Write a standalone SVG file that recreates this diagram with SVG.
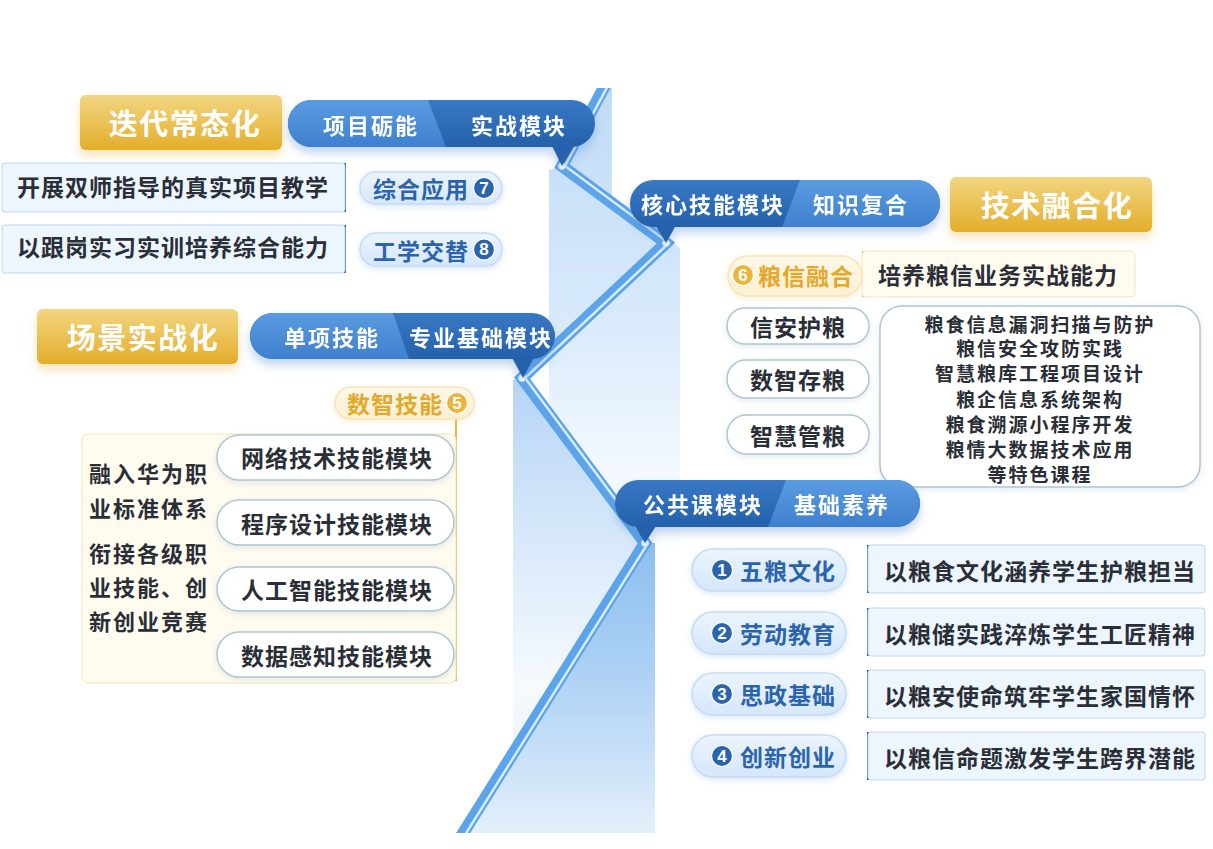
<svg xmlns="http://www.w3.org/2000/svg" width="1213" height="849" viewBox="0 0 1213 849">
<defs>
<style>
text{font-family:"Noto Sans CJK SC","Noto Sans",sans-serif;font-weight:700;dominant-baseline:central;}
.gt{fill:#fff;font-size:29px;letter-spacing:1.5px;text-anchor:middle;}
.bt{fill:#fff;font-size:22px;letter-spacing:2px;text-anchor:middle;}
.dk{fill:#2a2e37;font-size:23px;letter-spacing:1px;}
.mid{text-anchor:middle;}
.bl{fill:#2b64aa;font-size:23px;letter-spacing:1px;text-anchor:middle;}
.gd{fill:#e4a82b;font-size:23px;letter-spacing:1px;text-anchor:middle;}
.sm{fill:#2a2e37;font-size:19px;letter-spacing:2px;text-anchor:middle;}
.num{fill:#fff;font-size:17px;text-anchor:middle;font-family:"Liberation Sans",sans-serif;}
.goldbox{fill:url(#gGold);filter:url(#shG);}
.lpill{fill:url(#gLp);stroke:#c6dcf4;stroke-width:1.5;filter:url(#shL);}
.gpill{fill:url(#gGp);stroke:#f6e5bc;stroke-width:1.5;filter:url(#shGl);}
.wpill{fill:#fff;stroke:#aec6d3;stroke-width:1.5;filter:url(#shW);}
.lbox{fill:#edf5fe;stroke:#bcd6f2;stroke-width:1;}
.cbox{fill:#fffbef;stroke:#f6e4b2;stroke-width:1;}
.bnum{fill:#2b64aa;stroke:#ffffff;stroke-width:1.2;}
.gnum{fill:#ebb43b;stroke:#ffffff;stroke-width:1.2;}
.bline{stroke:#2b65ad;stroke-width:2;}
.gline{stroke:#e8b53c;stroke-width:2;}
.btri{fill:#2b65ad;}
.gtri{fill:#e8b53c;}
.dark{fill:url(#gBD);}
.light{fill:url(#gBL);}
.ptr{fill:#2862ab;}
</style>
<linearGradient id="gGold" x1="0" y1="0" x2="0" y2="1"><stop offset="0" stop-color="#f2d682"/><stop offset="1" stop-color="#e3ad2a"/></linearGradient>
<linearGradient id="gBL" x1="0" y1="0" x2="0" y2="1"><stop offset="0" stop-color="#5a9be0"/><stop offset="1" stop-color="#3e80ce"/></linearGradient>
<linearGradient id="gBD" x1="0" y1="0" x2="0" y2="1"><stop offset="0" stop-color="#3a78c4"/><stop offset="1" stop-color="#2461aa"/></linearGradient>
<linearGradient id="gLp" x1="0" y1="0" x2="0" y2="1"><stop offset="0" stop-color="#ebf4fe"/><stop offset="1" stop-color="#d5e7fa"/></linearGradient>
<linearGradient id="gGp" x1="0" y1="0" x2="0" y2="1"><stop offset="0" stop-color="#fef8e8"/><stop offset="1" stop-color="#fcefd2"/></linearGradient>
<linearGradient id="gR1" gradientUnits="userSpaceOnUse" x1="0" y1="88" x2="0" y2="560"><stop offset="0" stop-color="#c0dbf7"/><stop offset="0.45" stop-color="#d6e8fb"/><stop offset="0.8" stop-color="#f2f8fe"/><stop offset="1" stop-color="#ffffff"/></linearGradient>
<linearGradient id="gR2" gradientUnits="userSpaceOnUse" x1="0" y1="377" x2="0" y2="833"><stop offset="0" stop-color="#b6d4f5"/><stop offset="0.35" stop-color="#d7e8fa"/><stop offset="0.68" stop-color="#f6fafe"/><stop offset="1" stop-color="#e2eefb"/></linearGradient>
<linearGradient id="gR3" gradientUnits="userSpaceOnUse" x1="0" y1="543" x2="0" y2="833"><stop offset="0" stop-color="#8dbfef"/><stop offset="0.4" stop-color="#a9cff4"/><stop offset="0.75" stop-color="#cae1f8"/><stop offset="1" stop-color="#e4f0fc"/></linearGradient>
<filter id="shB" x="-20%" y="-40%" width="140%" height="200%"><feDropShadow dx="0" dy="6" stdDeviation="5" flood-color="#4f86cc" flood-opacity="0.35"/></filter>
<filter id="shG" x="-20%" y="-40%" width="140%" height="200%"><feDropShadow dx="0" dy="6" stdDeviation="5" flood-color="#e5b13c" flood-opacity="0.35"/></filter>
<filter id="shL" x="-20%" y="-40%" width="140%" height="200%"><feDropShadow dx="0" dy="2" stdDeviation="3" flood-color="#8db8ea" flood-opacity="0.35"/></filter>
<filter id="shGl" x="-20%" y="-40%" width="140%" height="200%"><feDropShadow dx="0" dy="2" stdDeviation="3" flood-color="#efd08a" flood-opacity="0.35"/></filter>
<filter id="shW" x="-20%" y="-40%" width="140%" height="200%"><feDropShadow dx="0" dy="2" stdDeviation="3" flood-color="#9fb7c6" flood-opacity="0.3"/></filter>
<clipPath id="clipLine"><rect x="0" y="88" width="1213" height="745"/></clipPath>
</defs>

<rect width="1213" height="849" fill="#ffffff"/>

<g id="background-ribbon">
<path d="M549,170 L562,166 L604,88 L612,88 L612,203 L680,248 L680,560 L549,560 Z" fill="url(#gR1)"/>
<path d="M513,380 L522,378 L645,543 L655,548 L655,833 L513,833 Z" fill="url(#gR2)"/>
<path d="M463,833 L645,543 L655,543 L655,833 Z" fill="url(#gR3)"/>
</g>

<g id="connectors">
<g clip-path="url(#clipLine)">
<polyline points="608,80 562,166 666,243 522,378 645,543 455,846" fill="none" stroke="#5ba4ea" stroke-width="12" stroke-linejoin="miter"/>
<polyline points="608,80 562,166 666,243 522,378 645,543 455,846" fill="none" stroke="#d9ebfc" stroke-width="2.5" transform="translate(3,0)"/>
</g>
<g fill="#ffffff" stroke="#cfe2f7" stroke-width="1">
<circle cx="562" cy="166" r="3.5"/>
<circle cx="666" cy="243" r="3.5"/>
<circle cx="522" cy="378" r="3.5"/>
<circle cx="645" cy="543" r="3.5"/>
</g>
<line class="bline" x1="345" y1="163" x2="345" y2="212"/>
<line class="bline" x1="345" y1="225" x2="345" y2="273"/>
<path class="btri" d="M337,187 L343,183 L343,191 Z"/>
<path class="btri" d="M337,249 L343,245 L343,253 Z"/>
<line class="gline" x1="456" y1="418" x2="456" y2="681"/>
<path class="gtri" d="M448,457 L455,453 L455,461 Z"/>
<path class="gtri" d="M448,523 L455,519 L455,527 Z"/>
<path class="gtri" d="M448,589 L455,585 L455,593 Z"/>
<path class="gtri" d="M448,655 L455,651 L455,659 Z"/>
<line class="gline" x1="863" y1="251" x2="863" y2="297"/>
<path class="gtri" d="M871,274 L865,270 L865,278 Z"/>
<line class="bline" x1="868" y1="545" x2="868" y2="593"/>
<line class="bline" x1="868" y1="608" x2="868" y2="656"/>
<line class="bline" x1="868" y1="670" x2="868" y2="718"/>
<line class="bline" x1="868" y1="732" x2="868" y2="780"/>
<path class="btri" d="M876,569 L870,565 L870,573 Z"/>
<path class="btri" d="M876,632 L870,628 L870,636 Z"/>
<path class="btri" d="M876,694 L870,690 L870,698 Z"/>
<path class="btri" d="M876,756 L870,752 L870,760 Z"/>
</g>

<g id="node-diedai">
<rect class="goldbox" x="80" y="95" width="202" height="55" rx="6"/>
<text class="gt" x="185" y="122">迭代常态化</text>
</g>
<g id="node-xiangmu" filter="url(#shB)">
<path class="ptr" d="M549,140 L578,140 L562,166 Z"/>
<rect class="dark" x="288" y="100" width="307" height="47" rx="23.5"/>
<path class="light" d="M311.5,100 L428,100 L446,147 L311.5,147 A23.5,23.5 0 0 1 311.5,100 Z"/>
<text class="bt" x="371" y="124">项目砺能</text>
<text class="bt" x="519" y="124">实战模块</text>
</g>
<g id="node-shuangshi">
<rect class="lbox" x="2" y="163" width="343" height="49" rx="3"/>
<text class="dk" x="17" y="186">开展双师指导的真实项目教学</text>
</g>
<g id="node-genggang">
<rect class="lbox" x="2" y="225" width="343" height="48" rx="3"/>
<text class="dk" x="17" y="246">以跟岗实习实训培养综合能力</text>
</g>
<g id="node-zonghe">
<rect class="lpill" x="360" y="172" width="142" height="32" rx="16"/>
<text class="bl" x="421" y="188">综合应用</text>
<circle class="bnum" cx="484" cy="188" r="10.5"/>
<text class="num" x="484" y="188">7</text>
</g>
<g id="node-gongxue">
<rect class="lpill" x="360" y="233" width="142" height="33" rx="16.5"/>
<text class="bl" x="421" y="249.5">工学交替</text>
<circle class="bnum" cx="484" cy="249.5" r="10.5"/>
<text class="num" x="484" y="249.5">8</text>
</g>

<g id="node-changjing">
<rect class="goldbox" x="37" y="309" width="201" height="55" rx="6"/>
<text class="gt" x="143" y="336">场景实战化</text>
</g>
<g id="node-danxiang" filter="url(#shB)">
<path class="ptr" d="M509,352 L537,352 L523,378 Z"/>
<rect class="dark" x="250" y="313" width="305" height="46" rx="23"/>
<path class="light" d="M273,313 L393,313 L409,359 L273,359 A23,23 0 0 1 273,313 Z"/>
<text class="bt" x="332" y="336">单项技能</text>
<text class="bt" x="481" y="336">专业基础模块</text>
</g>
<g id="node-shuzhi">
<rect class="gpill" x="335" y="387" width="139" height="32" rx="16"/>
<text class="gd" x="395" y="403">数智技能</text>
<circle class="gnum" cx="457" cy="403" r="10.5"/>
<text class="num" x="457" y="403">5</text>
</g>
<g id="node-huawei">
<rect class="cbox" x="82" y="434" width="374" height="249" rx="6"/>
<text class="dk" x="89" y="472" style="font-size:22px;letter-spacing:2px">融入华为职</text>
<text class="dk" x="89" y="507" style="font-size:22px;letter-spacing:2px">业标准体系</text>
<text class="dk" x="89" y="552" style="font-size:22px;letter-spacing:2px">衔接各级职</text>
<text class="dk" x="89" y="586" style="font-size:22px;letter-spacing:2px">业技能、创</text>
<text class="dk" x="89" y="620" style="font-size:22px;letter-spacing:2px">新创业竞赛</text>
</g>
<g id="node-wangluo">
<rect class="wpill" x="217" y="435" width="237" height="45" rx="22.5"/>
<text class="dk mid" x="337" y="457">网络技术技能模块</text>
</g>
<g id="node-chengxu">
<rect class="wpill" x="217" y="500" width="237" height="45" rx="22.5"/>
<text class="dk mid" x="337" y="522.5">程序设计技能模块</text>
</g>
<g id="node-rengong">
<rect class="wpill" x="217" y="567" width="237" height="44" rx="22"/>
<text class="dk mid" x="337" y="589">人工智能技能模块</text>
</g>
<g id="node-ganzhi">
<rect class="wpill" x="217" y="632" width="237" height="45" rx="22.5"/>
<text class="dk mid" x="337" y="654.5">数据感知技能模块</text>
</g>

<g id="node-hexin" filter="url(#shB)">
<path class="ptr" d="M651,218 L680,218 L666,243 Z"/>
<rect class="dark" x="630" y="180" width="310" height="47" rx="23.5"/>
<path class="light" d="M782,227 L800,180 L916.5,180 A23.5,23.5 0 0 1 916.5,227 Z"/>
<text class="bt" x="713" y="203">核心技能模块</text>
<text class="bt" x="861" y="203">知识复合</text>
</g>
<g id="node-jishu">
<rect class="goldbox" x="950" y="177" width="202" height="55" rx="6"/>
<text class="gt" x="1057" y="204">技术融合化</text>
</g>
<g id="node-liangxin">
<rect class="gpill" x="728" y="256" width="134" height="40" rx="20"/>
<circle class="gnum" cx="743" cy="275" r="10.5"/>
<text class="num" x="743" y="275">6</text>
<text class="gd" x="806" y="275">粮信融合</text>
</g>
<g id="node-peiyang">
<rect class="cbox" x="862" y="251" width="273" height="46" rx="4"/>
<text class="dk" x="878" y="274">培养粮信业务实战能力</text>
</g>
<g id="node-xinan">
<rect class="wpill" x="727" y="308" width="142" height="36" rx="18"/>
<text class="dk mid" x="798" y="326">信安护粮</text>
</g>
<g id="node-cunliang">
<rect class="wpill" x="727" y="360" width="142" height="38" rx="19"/>
<text class="dk mid" x="798" y="379">数智存粮</text>
</g>
<g id="node-guanliang">
<rect class="wpill" x="727" y="415" width="142" height="39" rx="19.5"/>
<text class="dk mid" x="798" y="434.5">智慧管粮</text>
</g>
<g id="node-kecheng">
<rect class="wpill" x="880" y="306" width="320" height="181" rx="22"/>
<text class="sm" x="1040" y="323">粮食信息漏洞扫描与防护</text>
<text class="sm" x="1040" y="347.5">粮信安全攻防实践</text>
<text class="sm" x="1040" y="372.5">智慧粮库工程项目设计</text>
<text class="sm" x="1040" y="398">粮企信息系统架构</text>
<text class="sm" x="1040" y="423">粮食溯源小程序开发</text>
<text class="sm" x="1040" y="448.5">粮情大数据技术应用</text>
<text class="sm" x="1040" y="473">等特色课程</text>
</g>

<g id="node-gonggong" filter="url(#shB)">
<path class="ptr" d="M631,520 L660,520 L645,543 Z"/>
<rect class="dark" x="615" y="480" width="305" height="47" rx="23.5"/>
<path class="light" d="M768,527 L786,480 L896.5,480 A23.5,23.5 0 0 1 896.5,527 Z"/>
<text class="bt" x="703" y="503">公共课模块</text>
<text class="bt" x="842" y="503">基础素养</text>
</g>
<g id="node-wuliang">
<rect class="lpill" x="692" y="549" width="154" height="42" rx="21"/>
<circle class="bnum" cx="722" cy="570" r="10.5"/>
<text class="num" x="722" y="570">1</text>
<text class="bl" x="788" y="570">五粮文化</text>
</g>
<g id="node-wuliang-desc">
<rect class="lbox" x="868" y="545" width="337" height="48" rx="3"/>
<text class="dk" x="884" y="570">以粮食文化涵养学生护粮担当</text>
</g>
<g id="node-laodong">
<rect class="lpill" x="692" y="612" width="154" height="42" rx="21"/>
<circle class="bnum" cx="722" cy="633" r="10.5"/>
<text class="num" x="722" y="633">2</text>
<text class="bl" x="788" y="633">劳动教育</text>
</g>
<g id="node-laodong-desc">
<rect class="lbox" x="868" y="608" width="337" height="48" rx="3"/>
<text class="dk" x="884" y="633">以粮储实践淬炼学生工匠精神</text>
</g>
<g id="node-sizheng">
<rect class="lpill" x="692" y="673" width="154" height="42" rx="21"/>
<circle class="bnum" cx="722" cy="694" r="10.5"/>
<text class="num" x="722" y="694">3</text>
<text class="bl" x="788" y="694">思政基础</text>
</g>
<g id="node-sizheng-desc">
<rect class="lbox" x="868" y="670" width="337" height="48" rx="3"/>
<text class="dk" x="884" y="695">以粮安使命筑牢学生家国情怀</text>
</g>
<g id="node-chuangxin">
<rect class="lpill" x="692" y="735" width="154" height="42" rx="21"/>
<circle class="bnum" cx="722" cy="756" r="10.5"/>
<text class="num" x="722" y="756">4</text>
<text class="bl" x="788" y="756">创新创业</text>
</g>
<g id="node-chuangxin-desc">
<rect class="lbox" x="868" y="732" width="337" height="48" rx="3"/>
<text class="dk" x="884" y="757">以粮信命题激发学生跨界潜能</text>
</g>
</svg>
